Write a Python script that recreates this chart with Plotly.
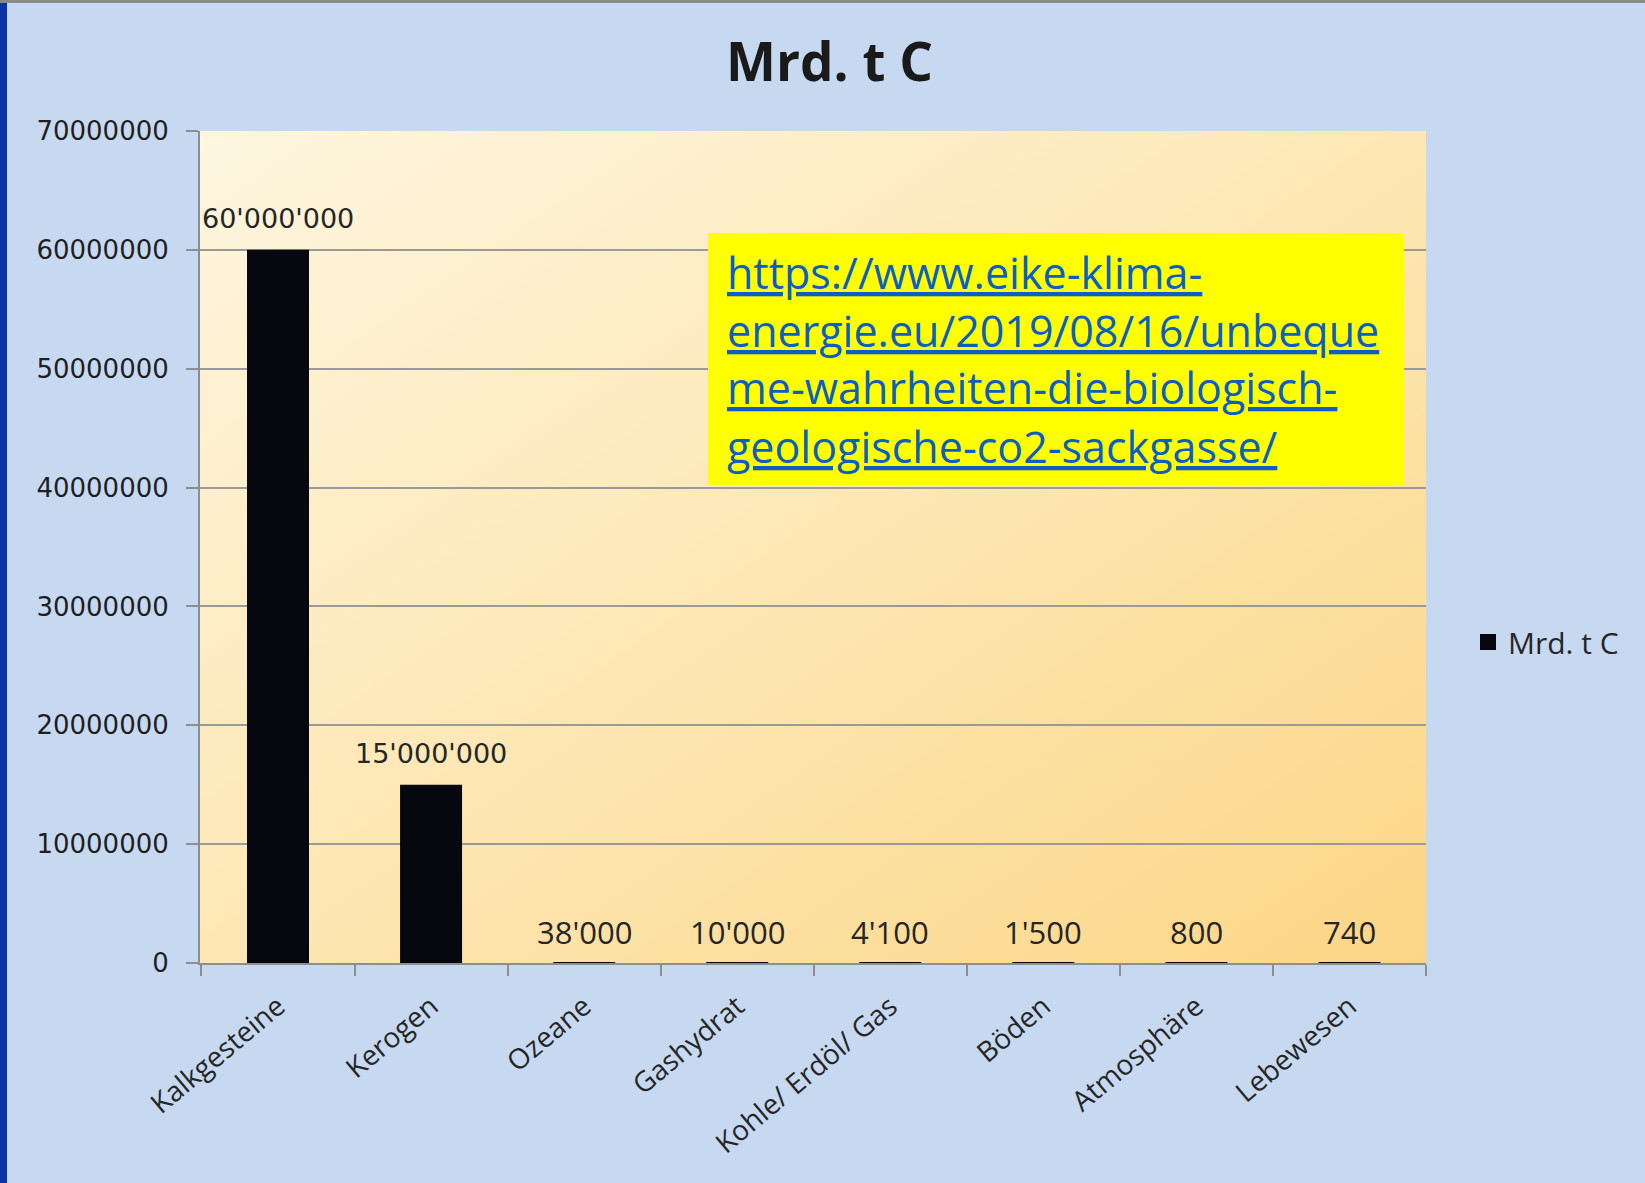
import base64
import plotly.graph_objects as go

# ---------------- data ----------------
categories = ["Kalkgesteine", "Kerogen", "Ozeane", "Gashydrat",
              "Kohle/ Erdöl/ Gas", "Böden", "Atmosphäre", "Lebewesen"]
values = [60000000, 15000000, 38000, 10000, 4100, 1500, 800, 740]
series_name = "Mrd. t C"
title_text = "Mrd. t C"
y_ticks = [0, 10000000, 20000000, 30000000, 40000000, 50000000, 60000000, 70000000]
link_lines = ["https://www.eike-klima-",
              "energie.eu/2019/08/16/unbeque",
              "me-wahrheiten-die-biologisch-",
              "geologische-co2-sackgasse/"]

# ---------------- layout geometry (pixels) ----------------
W, H = 1645, 1183
L, R, T, B = 200, 1426, 131, 963
PW, PH = R - L, B - T


def px_x(px):
    return (px - L) / PW


def px_y(py):
    return (B - py) / PH


def fmt(v):
    return f"{v:,}".replace(",", "'")


# gradient background for plot area (svg data uri)
svg = (
    '<svg xmlns="http://www.w3.org/2000/svg" width="100" height="100" preserveAspectRatio="none">'
    '<defs><linearGradient id="g" x1="0" y1="0" x2="1" y2="1">'
    '<stop offset="0" stop-color="#fef6e0"/>'
    '<stop offset="0.5" stop-color="#fde7b4"/>'
    '<stop offset="1" stop-color="#fcd686"/>'
    '</linearGradient></defs>'
    '<rect width="100" height="100" fill="url(#g)"/></svg>'
)
svg_uri = "data:image/svg+xml;base64," + base64.b64encode(svg.encode()).decode()

fig = go.Figure()
fig.add_trace(go.Bar(
    x=categories, y=values, name=series_name,
    marker=dict(color="#07070f", line=dict(width=0)),
    showlegend=False,
))
# legend entry (bigger square key like the original)
fig.add_trace(go.Scatter(
    x=[None], y=[None], mode="markers", name=series_name,
    marker=dict(symbol="square", size=16, color="#07070f"),
    showlegend=True, hoverinfo="skip",
))

big_font = dict(family="DejaVu Sans", size=27, color="#262626")
small_font = dict(family="Open Sans", size=31, color="#262626")
annotations = []
for c, v in zip(categories, values):
    annotations.append(dict(
        x=c, y=v, xref="x", yref="y", text=fmt(v), showarrow=False,
        yshift=31, font=big_font if v >= 1000000 else small_font,
    ))

# title
annotations.append(dict(
    x=px_x(829), y=px_y(61), xref="paper", yref="paper", text="<b>" + title_text + "</b>",
    showarrow=False, font=dict(family="Open Sans", size=53, color="#1a1a1a"),
    xanchor="center", yanchor="middle",
))

# link text, one annotation per line
line_centers = [273, 330, 388, 446]
for s, yc in zip(link_lines, line_centers):
    annotations.append(dict(
        x=px_x(725), y=px_y(yc), xref="paper", yref="paper",
        text="<u>" + s + "</u>",
        showarrow=False, align="left", xanchor="left", yanchor="middle",
        font=dict(family="Open Sans", size=43, color="#0b5fc2"),
    ))

shapes = [
    # yellow box
    dict(type="rect", xref="paper", yref="paper", x0=px_x(708), x1=px_x(1404),
         y0=px_y(485), y1=px_y(233), fillcolor="#ffff00", line=dict(width=0), layer="above"),
    # left dark blue border
    dict(type="rect", xref="paper", yref="paper", x0=px_x(0), x1=px_x(7),
         y0=px_y(H), y1=px_y(0), fillcolor="#0a34a0", line=dict(width=0), layer="below"),
    # top gray line
    dict(type="rect", xref="paper", yref="paper", x0=px_x(0), x1=px_x(W),
         y0=px_y(3), y1=px_y(0), fillcolor="#8a8a8a", line=dict(width=0), layer="below"),
]

fig.update_layout(
    width=W, height=H,
    margin=dict(l=L, r=W - R, t=T, b=H - B, pad=0),
    paper_bgcolor="#c6d9f1",
    plot_bgcolor="rgba(0,0,0,0)",
    bargap=0.595,
    images=[dict(source=svg_uri, xref="paper", yref="paper", x=0, y=1,
                 sizex=1, sizey=1, sizing="stretch", layer="below", xanchor="left", yanchor="top")],
    annotations=annotations,
    shapes=shapes,
    legend=dict(x=px_x(1468), y=px_y(642), xanchor="left", yanchor="middle",
                bgcolor="rgba(0,0,0,0)", font=dict(family="Open Sans", size=30, color="#262626"),
                itemwidth=30),
    xaxis=dict(
        type="category", tickson="boundaries", ticks="outside", ticklen=11, tickwidth=2,
        tickcolor="#8e8e8e", showline=True, linecolor="#8e8e8e", linewidth=2,
        tickangle=-40, tickfont=dict(family="Open Sans", size=28, color="#262626"),
        showgrid=False, ticklabelstandoff=14,
    ),
    yaxis=dict(
        range=[0, 70000000], tickvals=y_ticks, ticktext=[str(t) for t in y_ticks],
        ticks="outside", ticklen=12, tickwidth=2, tickcolor="#8e8e8e",
        showline=True, linecolor="#8e8e8e", linewidth=2,
        showgrid=True, gridcolor="#9a9a9a", gridwidth=2, zeroline=False,
        tickfont=dict(family="DejaVu Sans", size=26, color="#1f1f1f"),
        ticklabelstandoff=12,
    ),
)

fig.write_html("out.html", config={"displayModeBar": False},
               post_script="document.body.style.margin='0';")
